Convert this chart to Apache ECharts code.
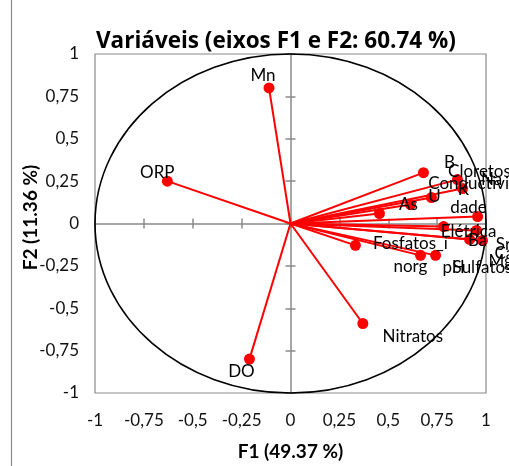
<!DOCTYPE html>
<html><head><meta charset="utf-8">
<script src="https://cdn.jsdelivr.net/npm/echarts@6/dist/echarts.min.js"></script>
<style>html,body{margin:0;padding:0;background:#fff}#c{width:509px;height:466px}</style>
</head><body><div id="c"></div>
<script>
// ---- data ----
const variables = ['Mn','ORP','DO','Nitratos','B','Cloretos','Na','K','U','As',
  'Conductivi\ndade\nElétrica','Mg','Ca','Ba','Sr','Fosfatos_i\nnorg','Sulfatos','pH'];
const f1 = [-0.11,-0.63,-0.21,0.37,0.68,0.854,0.88,0.721,0.614,0.455,
  0.957,0.783,0.951,0.916,0.982,0.332,0.665,0.742];
const f2 = [0.80,0.25,-0.80,-0.59,0.30,0.259,0.206,0.153,0.112,0.059,
  0.041,-0.018,-0.041,-0.094,-0.10,-0.129,-0.188,-0.188];
const tickValues = [-1,-0.75,-0.5,-0.25,0,0.25,0.5,0.75,1];
const tickLabels = ['-1','-0,75','-0,5','-0,25','0','0,25','0,5','0,75','1'];
const titleText = 'Variáveis (eixos F1 e F2: 60.74 %)';
const xName = 'F1 (49.37 %)';
const yName = 'F2 (11.36 %)';

// ---- styling: label offsets (px) relative to each point ----
const labelOffsets = [[-6,-12],[-10,-9],[-8,12],[50,13],[26,-10],[22,-8],[29,-9],[32,-8],[24,-8],[29,-9],
  [-9,-9],[57,35],[28,23],[8,1],[21,4],[55,10],[62,12],[18,12]];
const labelLH = [0,0,0,0,0,0,0,0,0,0,24,0,0,0,0,23,0,0];

const FONT = 'Lato';
const chart = echarts.init(document.getElementById('c'), null, {renderer:'canvas'});
function fmt(v){ const i = tickValues.findIndex(t=>Math.abs(t-v)<1e-9); return i>=0?tickLabels[i]:''; }

const series = variables.map((name,i)=>({
  type:'line', name:name, z:3,
  lineStyle:{color:'#ff0000', width:2},
  itemStyle:{color:'#ff0000'},
  symbol:'circle', symbolSize:11,
  animation:false, silent:true,
  data:[
    {value:[0,0], symbol:'none', label:{show:false}},
    {value:[f1[i],f2[i]], label:{show:true, formatter:name, position:'inside',
      offset:labelOffsets[i], color:'#000', fontFamily:FONT, fontSize:17,
      lineHeight: labelLH[i]||20}}
  ]
}));

const axisGray = '#8a8a8a';
const baseAxis = {type:'value', min:-1, max:1, interval:0.25};
const nameStyle = {fontFamily:FONT, fontWeight:'bold', fontSize:19, color:'#000'};
chart.setOption({
  animation:false,
  title:{text:titleText, left:96, top:30, padding:0, textStyle:{fontFamily:'Open Sans', fontWeight:'bold', fontSize:22.5, color:'#000'}},
  grid:{left:95, top:54, width:391, height:340, show:true, borderColor:axisGray, borderWidth:1.2, containLabel:false},
  xAxis:[
    Object.assign({}, baseAxis, {position:'bottom', axisLine:{show:false, onZero:false}, axisTick:{show:false}, splitLine:{show:false},
      axisLabel:{formatter:fmt, color:'#111', fontFamily:FONT, fontSize:17, margin:19},
      name:xName, nameLocation:'middle', nameGap:49, nameTextStyle:nameStyle}),
    Object.assign({}, baseAxis, {axisLine:{show:true, onZero:true, lineStyle:{color:axisGray, width:1.5}}, axisTick:{show:true, inside:true, length:5, lineStyle:{color:axisGray, width:1.5}}, axisLabel:{show:false}, splitLine:{show:false}}),
    Object.assign({}, baseAxis, {axisLine:{show:false, onZero:true}, axisTick:{show:true, inside:false, length:5, lineStyle:{color:axisGray, width:1.5}}, axisLabel:{show:false}, splitLine:{show:false}})
  ],
  yAxis:[
    Object.assign({}, baseAxis, {position:'left', axisLine:{show:false, onZero:false}, axisTick:{show:false}, splitLine:{show:false},
      axisLabel:{formatter:fmt, color:'#111', fontFamily:FONT, fontSize:17, margin:16}}),
    Object.assign({}, baseAxis, {axisLine:{show:true, onZero:true, lineStyle:{color:axisGray, width:1.5}}, axisTick:{show:true, inside:true, length:5, lineStyle:{color:axisGray, width:1.5}}, axisLabel:{show:false}, splitLine:{show:false}}),
    Object.assign({}, baseAxis, {axisLine:{show:false, onZero:true}, axisTick:{show:true, inside:false, length:5, lineStyle:{color:axisGray, width:1.5}}, axisLabel:{show:false}, splitLine:{show:false}})
  ],
  series: series
});

const c0 = chart.convertToPixel({gridIndex:0}, [0,0]);
const cx1 = chart.convertToPixel({gridIndex:0}, [1,0]);
const cy1 = chart.convertToPixel({gridIndex:0}, [0,1]);
chart.setOption({
  graphic:[
    {type:'ellipse', z:1, silent:true, shape:{cx:c0[0], cy:c0[1], rx:cx1[0]-c0[0], ry:c0[1]-cy1[1]},
      style:{fill:'none', stroke:'#000', lineWidth:1.6}},
    {type:'line', z:1, silent:true, shape:{x1:11.5, y1:0, x2:11.5, y2:466}, style:{stroke:axisGray, lineWidth:1.2}},
    {type:'text', z:5, silent:true, x:31, y:c0[1]-6, rotation:Math.PI/2,
      style:{text:yName, fill:'#000', font:'bold 19px Lato', textAlign:'center', textVerticalAlign:'middle', align:'center', verticalAlign:'middle'}}
  ]
});
</script>
</body></html>
